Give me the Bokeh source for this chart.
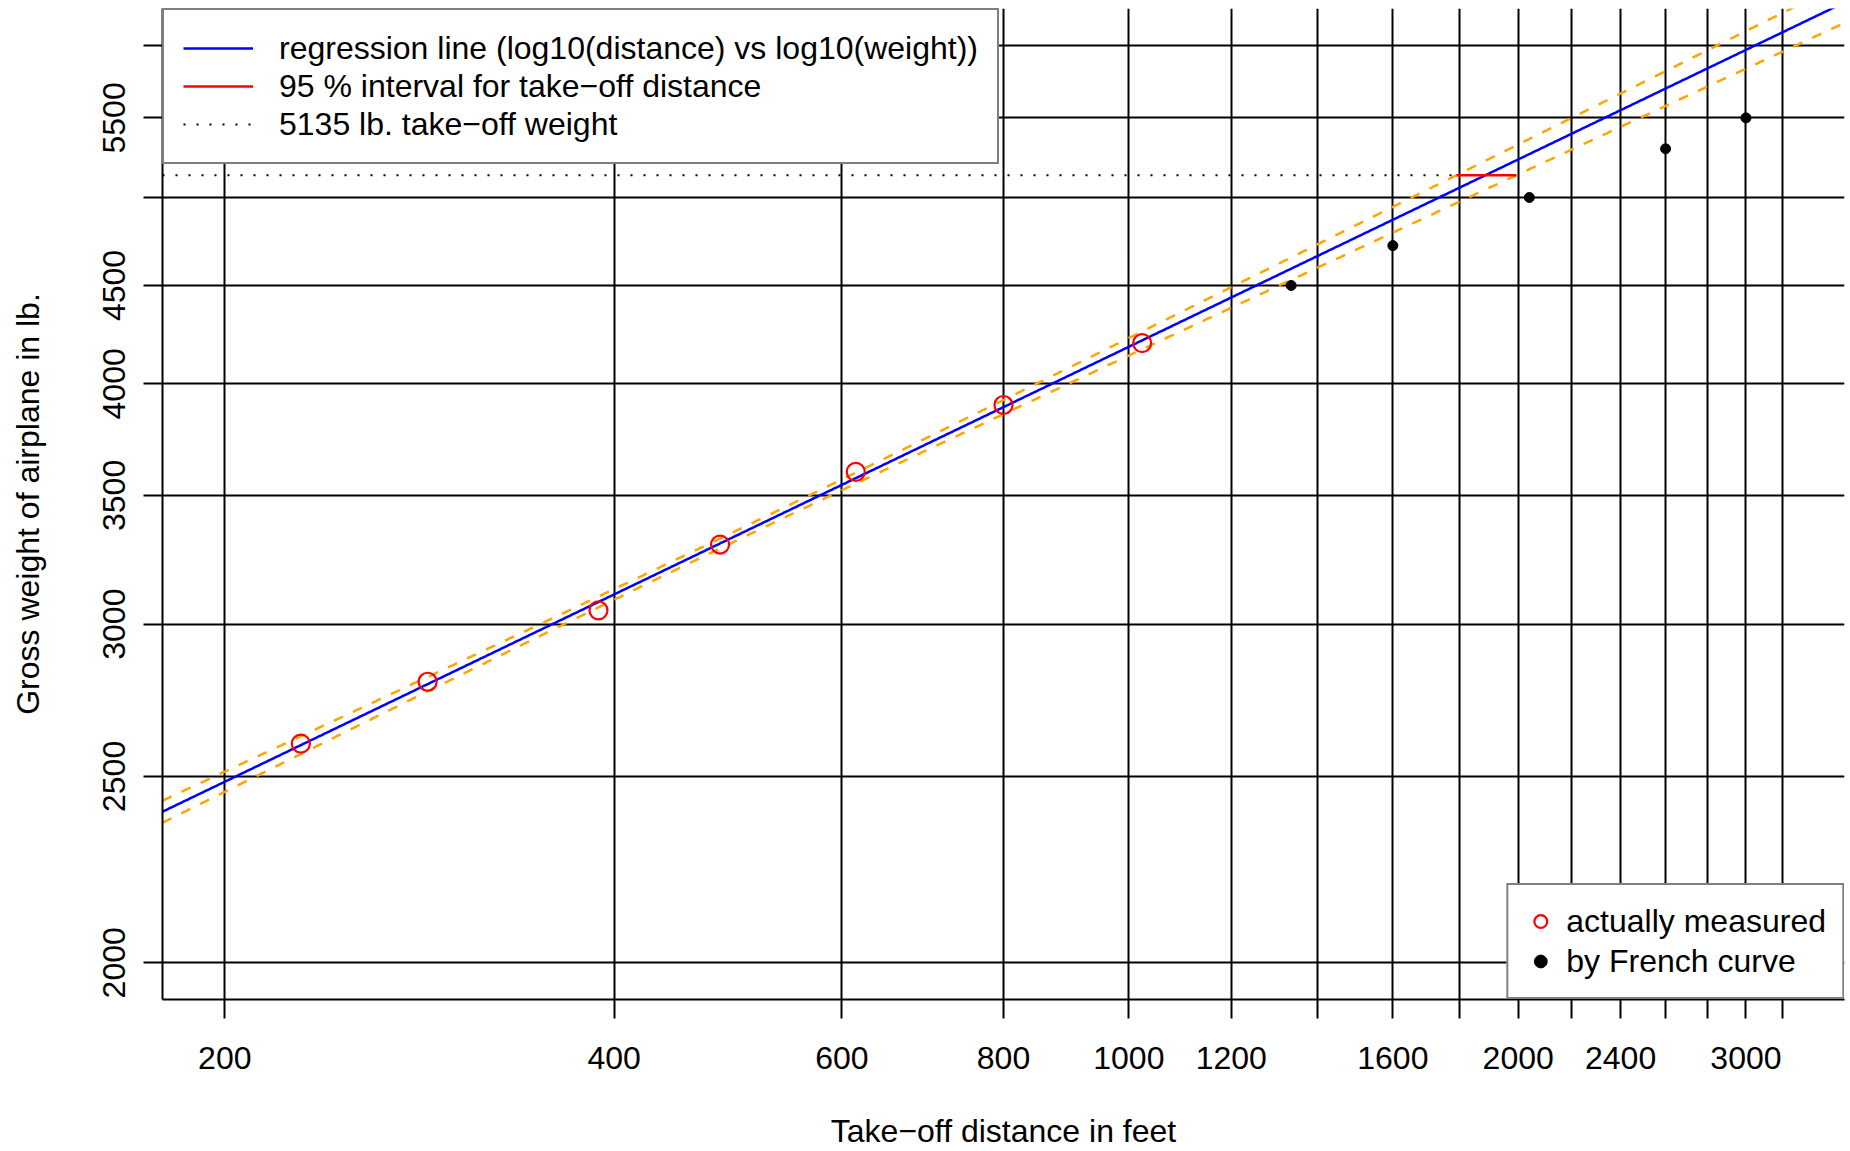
import math
import numpy as np
from bokeh.plotting import figure
from bokeh.models import Range1d, FixedTicker, Legend, LegendItem
from bokeh.embed import file_html
from bokeh.resources import INLINE

# ---------------- data ----------------
measured_distance = [229, 287, 389, 483, 615, 800, 1024]      # feet
measured_weight = [2600, 2800, 3050, 3300, 3600, 3900, 4200]  # lb
curve_distance = [1335, 1600, 2040, 2600, 3000]               # feet
curve_weight = [4500, 4720, 5000, 5300, 5500]                 # lb
takeoff_weight = 5135

x_limits = [200, 3200]
y_limits = [2000, 6000]
x_ticks = [200, 400, 600, 800, 1000, 1200, 1400, 1600, 1800, 2000,
           2200, 2400, 2600, 2800, 3000, 3200]
x_tick_labels = ["200", "400", "600", "800", "1000", "1200", "", "1600", "",
                 "2000", "", "2400", "", "", "3000", ""]
y_ticks = [2000, 2500, 3000, 3500, 4000, 4500, 5000, 5500, 6000]
y_tick_labels = ["2000", "2500", "3000", "3500", "4000", "4500", "", "5500", ""]

T_975_DF5 = 2.5706  # Student t quantile, 95 %, 5 d.f.

# ---------------- regression in log-log space ----------------
lx = np.log10(np.array(measured_distance, dtype=float))
ly = np.log10(np.array(measured_weight, dtype=float))
n = len(lx)
slope, intercept = np.polyfit(lx, ly, 1)
resid = ly - (intercept + slope * lx)
s_err = math.sqrt(float(np.sum(resid ** 2)) / (n - 2))
mx = float(lx.mean())
sxx = float(np.sum((lx - mx) ** 2))


def padded_log_range(lims):
    lo, hi = math.log10(lims[0]), math.log10(lims[1])
    d = 0.04 * (hi - lo)
    return 10 ** (lo - d), 10 ** (hi + d)


xr = padded_log_range(x_limits)
yr = padded_log_range(y_limits)

grid_lx = np.linspace(math.log10(xr[0]), math.log10(xr[1]), 3000)
fit_ly = intercept + slope * grid_lx
half = T_975_DF5 * s_err * np.sqrt(1.0 / n + (grid_lx - mx) ** 2 / sxx)
upper_ly = fit_ly + half
lower_ly = fit_ly - half

lw0 = math.log10(takeoff_weight)
interval_lo = 10 ** float(np.interp(lw0, upper_ly, grid_lx))
interval_hi = 10 ** float(np.interp(lw0, lower_ly, grid_lx))

grid_x = 10 ** grid_lx

# ---------------- figure ----------------
FONT = "Liberation Sans"
p = figure(width=1848, height=1151, x_axis_type="log", y_axis_type="log",
           x_range=Range1d(xr[0], xr[1]), y_range=Range1d(yr[0], yr[1]),
           output_backend="svg", toolbar_location=None,
           min_border_left=162, min_border_right=4,
           min_border_top=8, min_border_bottom=151)
p.outline_line_color = None
p.background_fill_color = "white"
p.border_fill_color = "white"

p.xaxis.ticker = FixedTicker(ticks=x_ticks, minor_ticks=[])
p.yaxis.ticker = FixedTicker(ticks=y_ticks, minor_ticks=[])
p.xaxis.major_label_overrides = dict(zip(x_ticks, x_tick_labels))
p.yaxis.major_label_overrides = dict(zip(y_ticks, y_tick_labels))
p.yaxis.major_label_orientation = "vertical"

for ax in (p.xaxis[0], p.yaxis[0]):
    ax.axis_line_color = "black"
    ax.axis_line_width = 2
    ax.major_tick_line_color = "black"
    ax.major_tick_line_width = 2
    ax.major_tick_out = 19
    ax.major_tick_in = 0
    ax.minor_tick_line_color = None
    ax.major_label_text_font = FONT
    ax.major_label_text_font_size = "32px"
    ax.major_label_text_color = "black"
    ax.axis_label_text_font = FONT
    ax.axis_label_text_font_size = "32px"
    ax.axis_label_text_font_style = "normal"
    ax.axis_label_text_color = "black"

p.xaxis.axis_label = "Take\u2212off distance in feet"
p.yaxis.axis_label = "Gross weight of airplane in lb."
p.xaxis.major_label_standoff = 28
p.xaxis.axis_label_standoff = 41
p.yaxis.major_label_standoff = 18
p.yaxis.axis_label_standoff = 55

for g in (p.xgrid[0], p.ygrid[0]):
    g.grid_line_color = "black"
    g.grid_line_width = 2

# ---------------- marks ----------------
r_up = p.line(grid_x, 10 ** upper_ly, line_color="orange", line_width=2.5, line_dash="10 11")
r_lo = p.line(grid_x, 10 ** lower_ly, line_color="orange", line_width=2.5, line_dash="10 11")
r_fit = p.line(grid_x, 10 ** fit_ly, line_color="blue", line_width=2.5)
r_dot = p.line([xr[0], interval_lo], [takeoff_weight, takeoff_weight],
               line_color="black", line_width=2, line_dash="2 11")
r_int = p.line([interval_lo, interval_hi], [takeoff_weight, takeoff_weight],
               line_color="red", line_width=2.5)
r_meas = p.scatter(measured_distance, measured_weight, marker="circle", size=18,
                   fill_color=None, line_color="red", line_width=2.2)
r_curve = p.scatter(curve_distance, curve_weight, marker="circle", size=10,
                    fill_color="black", line_color="black")

# ---------------- legends ----------------
leg1 = Legend(items=[
    LegendItem(label="regression line (log10(distance) vs log10(weight))", renderers=[r_fit]),
    LegendItem(label="95 % interval for take\u2212off distance", renderers=[r_int]),
    LegendItem(label=f"{takeoff_weight} lb. take\u2212off weight", renderers=[r_dot]),
], location="top_left")
leg2 = Legend(items=[
    LegendItem(label="actually measured", renderers=[r_meas]),
    LegendItem(label="by French curve", renderers=[r_curve]),
], location="bottom_right")

for lg in (leg1, leg2):
    lg.margin = 0
    lg.border_line_color = "black"
    lg.border_line_width = 2
    lg.background_fill_color = "white"
    lg.background_fill_alpha = 1.0
    lg.label_text_font = FONT
    lg.label_text_font_size = "32px"
    lg.label_text_color = "black"

leg1.padding = 19
leg1.spacing = 0
leg1.label_height = 38
leg1.glyph_width = 70
leg1.glyph_height = 20
leg1.label_standoff = 26

leg2.padding = 16
leg2.spacing = 0
leg2.label_height = 40
leg2.glyph_width = 32
leg2.glyph_height = 40
leg2.label_standoff = 10

p.add_layout(leg1)
p.add_layout(leg2)

open("out.html", "w").write(file_html(p, INLINE))
